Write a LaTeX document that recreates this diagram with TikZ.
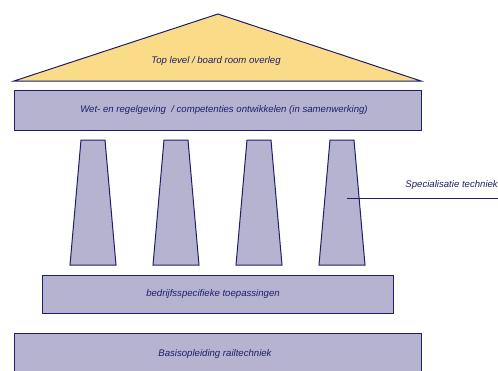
\documentclass[tikz,border=0pt]{standalone}
\usepackage{fontspec}
\setmainfont{Liberation Sans}
\usetikzlibrary{calc}

\definecolor{lavendel}{HTML}{B5B3D0}
\definecolor{navy}{HTML}{1E1E6A}
\definecolor{dak}{HTML}{FADC88}

\begin{document}
\begin{tikzpicture}[x=1pt, y=-1pt,
    vlak/.style={draw=navy, fill=lavendel, line width=1pt},
    dakvlak/.style={draw=navy, fill=dak, line width=1pt},
    tekst/.style={text=navy, font=\itshape\fontsize{9.6}{11}\selectfont}]
    \useasboundingbox (0,0) rectangle (498,370);
    \begin{scope}
    \clip (0,0) rectangle (498,370);
    % dak
    \draw [dakvlak] (218,14) -- (421,81) -- (14,81) -- cycle;
    \node [tekst] (top) at (216,61) {Top level / board room overleg};
    % balk boven
    \draw [vlak] (14,90) rectangle (421,130);
    \node [tekst] (wet) at (224,110) {Wet- en regelgeving\ \ / competenties ontwikkelen (in samenwerking)};
    % pilaren
    \foreach \c/\n in {93/1, 176/2, 259/3, 342/4}
        \draw [vlak] (\c-12,140) -- (\c+12,140) -- (\c+23,265) -- (\c-23,265) -- cycle;
    \coordinate (pil4) at (347,198);
    \node [tekst, anchor=base east, inner sep=0pt] (spec) at (498,187) {Specialisatie techniek};
    \draw [navy, line width=0.8pt] (pil4) -- (spec.east |- pil4);
    % bedrijfsspecifiek
    \draw [vlak] (42,275) rectangle (393,313);
    \node [tekst] (bedr) at (213,294) {bedrijfsspecifieke toepassingen};
    % basis
    \draw [vlak] (14,333) rectangle (421,380);
    \node [tekst] (basis) at (215,354) {Basisopleiding railtechniek};
    \end{scope}
\end{tikzpicture}
\end{document}
